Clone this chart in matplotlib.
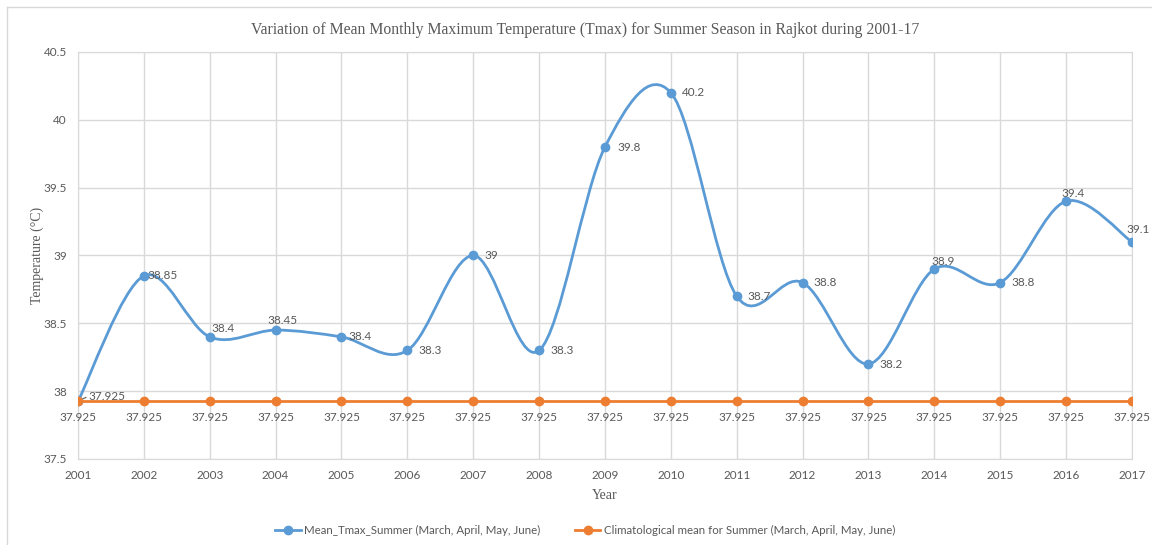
import matplotlib.pyplot as plt
import numpy as np
from matplotlib.path import Path
from matplotlib.patches import PathPatch
from matplotlib.lines import Line2D

years = list(range(2001, 2018))
tmax_summer = [37.925, 38.85, 38.4, 38.45, 38.4, 38.3, 39.0, 38.3, 39.8, 40.2,
               38.7, 38.8, 38.2, 38.9, 38.8, 39.4, 39.1]
clim_mean = [37.925] * 17
tmax_labels = ['37.925', '38.85', '38.4', '38.45', '38.4', '38.3', '39', '38.3',
               '39.8', '40.2', '38.7', '38.8', '38.2', '38.9', '38.8', '39.4', '39.1']

BLUE = '#5B9BD5'
ORANGE = '#ED7D31'
GRID = '#D9D9D9'
TXT = '#595959'


def smooth_path(x, y):
    # Excel-style smoothed line: Catmull-Rom converted to cubic Bezier segments
    x = np.asarray(x, float)
    y = np.asarray(y, float)
    px = np.concatenate([[x[0]], x, [x[-1]]])
    py = np.concatenate([[y[0]], y, [y[-1]]])
    verts = [(x[0], y[0])]
    codes = [Path.MOVETO]
    for i in range(1, len(x)):
        c1 = (px[i] + (px[i + 1] - px[i - 1]) / 6, py[i] + (py[i + 1] - py[i - 1]) / 6)
        c2 = (px[i + 1] - (px[i + 2] - px[i]) / 6, py[i + 1] - (py[i + 2] - py[i]) / 6)
        verts += [c1, c2, (px[i + 1], py[i + 1])]
        codes += [Path.CURVE4] * 3
    return Path(verts, codes)


fig = plt.figure(figsize=(11.52, 5.45), dpi=100)
ax = fig.add_axes([0.0677, 0.1578, 0.9149, 0.7468])

ax.add_patch(PathPatch(smooth_path(years, tmax_summer), fill=False,
                       edgecolor=BLUE, lw=2, zorder=3))
ax.plot(years, tmax_summer, 'o', color=BLUE, ms=6, zorder=4)
ax.plot(years, clim_mean, '-o', color=ORANGE, lw=2, ms=6, zorder=4)

# data labels (pixel offsets, alignment)
offs = [(10, 5, 'left'), (4, 0, 'left'), (2, 8, 'left'), (7, 10, 'center'),
        (7, 0, 'left'), (11, 0, 'left'), (11, 0, 'left'), (11, 0, 'left'),
        (12, -1, 'left'), (11, 0, 'left'), (11, 0, 'left'), (11, 0, 'left'),
        (11, 0, 'left'), (9, 8, 'center'), (11, 0, 'left'), (7, 8, 'center'),
        (6, 12, 'center')]
for x, y, lab, (dx, dy, ha) in zip(years, tmax_summer, tmax_labels, offs):
    ax.annotate(lab, (x, y), xytext=(dx, dy), textcoords='offset pixels',
                ha=ha, va='center', fontsize=8.5, color=TXT,
                family='Lato', zorder=5, annotation_clip=False)
ax.annotate('', (years[0], tmax_summer[0]), xytext=(8, 4), textcoords='offset pixels',
            arrowprops=dict(arrowstyle='-', color=TXT, lw=0.8, shrinkA=0, shrinkB=2))
for x, y in zip(years, clim_mean):
    ax.annotate(f'{y:g}', (x, y), xytext=(0, -16), textcoords='offset pixels',
                ha='center', va='center', fontsize=8.5, color=TXT,
                family='Lato', annotation_clip=False)

ax.set_xlim(2001, 2017)
ax.set_ylim(37.5, 40.5)
ax.set_xticks(years)
ax.set_yticks(np.arange(37.5, 40.51, 0.5))
ax.set_yticklabels(['37.5', '38', '38.5', '39', '39.5', '40', '40.5'])
ax.tick_params(length=0, labelsize=8.5, labelcolor=TXT, pad=8)
for lab in ax.get_xticklabels() + ax.get_yticklabels():
    lab.set_family('Lato')
ax.grid(True, color=GRID, lw=1)
ax.set_axisbelow(True)
for s in ax.spines.values():
    s.set_color(GRID)

ax.set_xlabel('Year', family='Liberation Serif', fontsize=10, color=TXT)
ax.set_ylabel('Temperature (°C)', family='Liberation Serif', fontsize=10, color=TXT)
ax.xaxis.set_label_coords(0.5, -0.073)
ax.yaxis.set_label_coords(-0.032, 0.5)
fig.text(0.508, 0.945,
         'Variation of Mean Monthly Maximum Temperature (Tmax) for Summer Season in Rajkot during 2001-17',
         ha='center', va='center', family='Liberation Serif', fontsize=11.3, color=TXT)

handles = [Line2D([], [], color=BLUE, lw=2, marker='o', ms=6),
           Line2D([], [], color=ORANGE, lw=2, marker='o', ms=6)]
fig.legend(handles, ['Mean_Tmax_Summer (March, April, May, June)',
                     'Climatological mean for Summer (March, April, May, June)'],
           loc='center', bbox_to_anchor=(0.508, 0.026), ncol=2, frameon=False,
           prop={'family': 'Lato', 'size': 8.3}, labelcolor=TXT,
           handlelength=2.2, handletextpad=0.3, columnspacing=3.0)

# chart frame (top and left edges visible in the reference)
fig.add_artist(Line2D([7 / 1152, 1], [1 - 7 / 545, 1 - 7 / 545],
                      color=GRID, lw=1, transform=fig.transFigure))
fig.add_artist(Line2D([7 / 1152, 7 / 1152], [0, 1 - 7 / 545],
                      color=GRID, lw=1, transform=fig.transFigure))

fig.savefig('out.png', dpi=100)
